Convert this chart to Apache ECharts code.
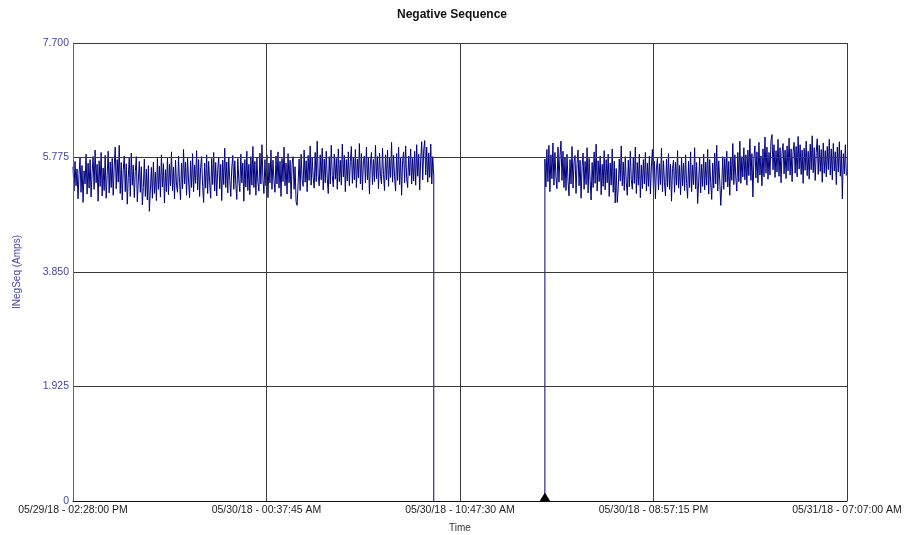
<!DOCTYPE html>
<html>
<head>
<meta charset="utf-8">
<script src="https://cdn.jsdelivr.net/npm/echarts@6/dist/echarts.min.js"></script>
<style>
  html, body { margin: 0; padding: 0; background: #fff; }
  #chart { width: 904px; height: 535px; }
</style>
</head>
<body>
<div id="chart"></div>
<script>
// time axis is minutes since 05/29/18 02:28:00 PM
var xTickLabels = ['05/29/18 - 02:28:00 PM', '05/30/18 - 00:37:45 AM', '05/30/18 - 10:47:30 AM',
	'05/30/18 - 08:57:15 PM', '05/31/18 - 07:07:00 AM'];
var yTickLabels = ['0', '1.925', '3.850', '5.775', '7.700'];
var spanMin = 2439;        // 40h 39m
var tickMin = 609.75;      // 10h 09m 45s
var sampleMin = 190 / 60;  // one reading every 3m 10s

// readings before the outage (starting at minute 0)
var before = [
	5.62,5.21,5.71,5.30,5.58,5.08,5.49,5.77,5.19,5.64,5.02,5.55,5.33,5.83,5.16,5.68,5.26,5.74,5.11,5.52,
	5.79,5.24,5.90,5.35,5.66,5.04,5.72,5.29,5.86,5.13,5.60,5.22,5.81,5.09,5.47,5.88,5.18,5.70,5.27,5.76,
	5.14,5.63,5.95,5.25,5.74,5.36,5.98,5.17,5.69,5.06,5.57,5.80,5.20,5.67,4.99,5.44,5.78,5.12,5.85,5.31,
	5.65,5.10,5.54,5.79,5.03,5.38,5.71,5.19,5.62,4.98,5.27,5.75,5.12,5.58,5.06,5.64,4.87,5.23,5.61,5.09,
	5.70,5.17,5.53,5.05,5.76,5.24,5.63,5.11,5.82,5.28,5.67,5.01,5.57,5.20,5.78,5.15,5.66,5.30,5.87,5.22,
	5.61,5.08,5.73,5.31,5.19,5.80,5.36,5.06,5.68,5.25,5.91,5.33,5.70,5.14,5.77,5.38,5.10,5.72,5.27,5.84,
	5.20,5.65,5.34,5.89,5.23,5.74,5.12,5.61,5.79,5.29,5.02,5.68,5.26,5.82,5.17,5.71,5.35,5.09,5.76,5.32,
	5.86,5.21,5.69,5.13,5.57,5.78,5.25,5.66,5.05,5.73,5.32,5.93,5.27,5.70,5.18,5.77,5.39,5.12,5.60,5.81,
	5.24,5.72,5.33,5.07,5.76,5.40,5.20,5.83,5.35,5.68,5.04,5.74,5.28,5.88,5.22,5.66,5.15,5.79,5.31,5.96,
	5.27,5.71,5.14,5.77,5.36,5.21,5.85,5.33,5.99,5.41,5.17,5.74,5.30,5.82,5.10,5.68,5.35,5.90,5.24,5.73,
	5.40,5.19,5.80,5.33,5.87,5.26,5.71,5.12,5.76,5.37,5.95,5.30,5.68,5.16,5.84,5.35,5.73,5.08,5.66,5.79,
	5.24,5.62,5.03,4.97,5.33,5.75,5.22,5.83,5.41,5.29,5.90,5.36,5.72,5.20,5.81,5.39,5.97,5.31,5.77,5.44,
	5.26,5.86,5.37,6.05,5.46,5.30,5.82,5.40,5.93,5.23,5.75,5.35,5.88,5.43,5.17,5.79,5.33,5.98,5.47,5.28,
	5.83,5.41,5.76,5.24,5.92,5.37,5.73,5.31,6.00,5.45,5.81,5.20,5.74,5.38,5.87,5.30,5.71,5.96,5.34,5.78,
	5.40,5.91,5.27,5.75,5.43,6.01,5.33,5.84,5.23,5.72,5.80,5.35,5.95,5.40,5.77,5.16,5.70,5.86,5.32,5.74,
	5.37,5.98,5.42,5.79,5.25,5.85,5.46,5.33,5.93,5.49,5.22,5.82,5.40,5.90,5.29,5.76,5.44,6.03,5.36,5.81,
	5.45,5.21,5.84,5.39,5.95,5.32,5.78,5.14,5.73,5.87,5.35,5.97,5.43,5.27,5.80,5.47,5.92,5.33,5.76,5.38,
	5.88,5.31,5.99,5.46,5.83,5.23,5.75,6.04,5.40,5.90,6.06,5.48,5.95,5.36,5.85,5.44,6.00,5.33,5.79,5.46
];
// readings after the outage
var resumeMin = 1487;
var after = [
	5.75,5.28,5.91,5.37,5.98,5.20,5.82,5.42,6.02,5.31,5.86,5.45,5.25,5.95,5.36,5.79,6.05,5.39,5.88,5.27,
	5.77,5.22,5.83,5.38,5.13,5.74,5.33,5.96,5.26,5.70,5.81,5.17,5.67,5.90,5.30,5.73,5.09,5.62,5.85,5.24,
	5.71,5.32,5.94,5.18,5.76,5.39,5.06,5.69,5.27,5.87,5.34,6.00,5.21,5.72,5.37,5.80,5.15,5.66,5.29,5.89,
	5.23,5.74,5.35,5.83,5.12,5.68,5.31,5.92,5.19,5.71,5.01,5.59,5.02,5.26,5.75,5.38,5.97,5.30,5.70,5.22,
	5.79,5.36,5.14,5.73,5.28,5.88,5.40,5.24,5.77,5.34,5.95,5.17,5.69,5.31,5.83,5.10,5.65,5.25,5.74,5.33,
	5.86,5.21,5.68,5.29,5.80,5.16,5.63,5.91,5.27,5.71,5.08,5.60,5.76,5.23,5.67,5.32,5.93,5.20,5.72,5.35,
	5.13,5.75,5.28,5.84,5.24,5.66,5.04,5.59,5.73,5.19,5.70,5.31,5.89,5.26,5.64,5.15,5.78,5.30,5.68,5.22,
	5.82,5.34,5.09,5.71,5.27,5.87,5.20,5.65,5.32,5.94,5.25,5.69,5.00,5.36,5.77,5.18,5.66,5.29,5.83,5.23,
	5.70,5.31,5.91,5.16,5.74,5.35,5.07,5.68,5.26,5.85,5.33,5.98,5.21,5.72,5.38,4.97,5.30,5.79,5.24,5.76,
	5.36,5.88,5.28,5.71,5.14,5.77,5.39,6.01,5.32,5.82,5.43,5.21,5.86,5.37,6.05,5.34,5.79,5.45,5.94,5.40,
	5.82,5.31,5.90,5.47,6.09,5.39,5.84,5.11,5.76,5.97,5.43,5.87,5.35,6.03,5.48,5.80,5.30,5.92,5.45,6.12,
	5.51,5.95,5.41,5.86,5.48,6.06,6.16,5.57,5.99,5.44,5.89,5.53,6.08,5.46,5.94,5.35,5.85,6.01,5.50,5.90,
	5.42,5.97,5.55,6.10,5.48,5.92,5.37,5.87,6.03,5.51,5.96,5.45,6.13,5.58,5.99,5.49,5.90,5.34,5.93,5.56,
	6.05,5.47,5.88,5.41,6.00,5.57,6.14,5.52,5.94,5.39,5.86,6.09,5.49,5.98,5.54,5.91,5.36,6.02,5.51,5.89,
	5.45,5.96,5.57,6.08,5.48,5.92,5.40,6.01,5.55,5.87,5.32,5.95,5.53,6.04,5.46,5.90,5.08,5.84,5.50,5.99,
	5.47
];
var outageLevel = 0;

var points = [];
for (var i = 0; i < before.length; i++) points.push([i * sampleMin, before[i]]);
var lastMin = (before.length - 1) * sampleMin;
points.push([lastMin, outageLevel]);
points.push([lastMin + sampleMin, null]);   // no readings during the outage
points.push([resumeMin, outageLevel]);
for (var j = 0; j < after.length; j++) points.push([resumeMin + j * sampleMin, after[j]]);

var font = 'Liberation Sans, Arial, sans-serif';
var gridColor = '#3a3a3a';
var blue = '#4646a6';

var myChart = echarts.init(document.getElementById('chart'));
var option = {
	animation: false,
	backgroundColor: '#fff',
	title: {
		text: 'Negative Sequence',
		left: 'center',
		top: 4,
		textStyle: { fontFamily: font, fontSize: 12, fontWeight: 'bold', color: '#111' }
	},
	grid: { left: 73, right: 57, top: 43, bottom: 34, containLabel: false, outerBoundsMode: 'none' },
	xAxis: {
		type: 'value',
		min: 0,
		max: spanMin,
		interval: tickMin,
		name: 'Time',
		nameLocation: 'middle',
		nameGap: 22,
		nameTextStyle: { fontFamily: font, fontSize: 10, color: '#333' },
		axisLine: { show: true, onZero: false, lineStyle: { color: '#111', width: 1 } },
		axisTick: { show: false },
		axisLabel: {
			fontFamily: font, fontSize: 10.5, color: '#222', margin: 4,
			showMinLabel: true, showMaxLabel: true,
			formatter: function (v) { return xTickLabels[Math.round(v / tickMin)]; }
		},
		splitLine: { show: true, showMinLine: true, showMaxLine: true, lineStyle: { color: gridColor, width: 1 } },
		z: 3
	},
	yAxis: {
		type: 'value',
		min: 0,
		max: 7.7,
		interval: 1.925,
		name: 'INegSeq (Amps)',
		nameLocation: 'middle',
		nameRotate: 90,
		nameGap: 51,
		nameTextStyle: { fontFamily: font, fontSize: 10, color: blue },
		axisLine: { show: true, lineStyle: { color: '#666', width: 1 } },
		axisTick: { show: false },
		axisLabel: {
			fontFamily: font, fontSize: 10.5, color: blue, margin: 4,
			formatter: function (v) { return yTickLabels[Math.round(v / 1.925)]; }
		},
		splitLine: { show: true, showMinLine: true, showMaxLine: true, lineStyle: { color: gridColor, width: 1 } },
		z: 3
	},
	series: [{
		type: 'line',
		z: 1,
		data: points,
		connectNulls: false,
		showSymbol: false,
		symbol: 'none',
		lineStyle: { color: '#000080', width: 1 },
		markPoint: {
			symbol: 'triangle',
			symbolSize: [11, 9],
			symbolOffset: [0, -4],
			itemStyle: { color: '#000' },
			label: { show: false },
			data: [{ coord: [resumeMin, outageLevel] }]
		}
	}]
};
myChart.setOption(option, true);
</script>
</body>
</html>
